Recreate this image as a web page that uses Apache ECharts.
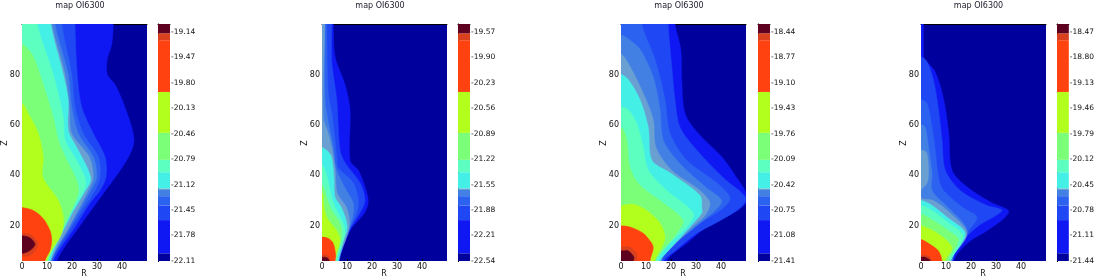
<!DOCTYPE html>
<html><head><meta charset="utf-8">
<style>html,body{margin:0;padding:0;background:#fff}#c{width:1097px;height:278px}</style>
<script src="https://cdn.jsdelivr.net/npm/echarts@6/dist/echarts.min.js"></script></head>
<body><div id="c"></div>
<script>
const title = 'map OI6300';
const rTicks = [0,10,20,30,40];
const zTicks = [20,40,60,80];
const navy = '#00009c';
const bandColors = ['#0f18f2','#1f48f4','#2c62f0','#4280e4','#6a9fd2','#44f0e6','#5cffc0','#7cff78','#b2ff1e','#ff4210','#d8401e','#5e0020'];
const barEdges = [0,0.10,0.53,0.72,0.84,0.92,0.94,1.15,1.31,1.66,2.19,2.86,2.95,3.07];

const ticks1 = [-19.14,-19.47,-19.80,-20.13,-20.46,-20.79,-21.12,-21.45,-21.78,-22.11];
const ticks2 = [-19.57,-19.90,-20.23,-20.56,-20.89,-21.22,-21.55,-21.88,-22.21,-22.54];
const ticks3 = [-18.44,-18.77,-19.10,-19.43,-19.76,-20.09,-20.42,-20.75,-21.08,-21.41];
const ticks4 = [-18.47,-18.80,-19.13,-19.46,-19.79,-20.12,-20.45,-20.78,-21.11,-21.44];

// Contours: each is the outer edge [R,Z] of one colour level, closed along R=0.
const p1c1 = [[36.5,100],[35.9,92],[34.1,86],[34.1,80],[37.2,76],[41.2,67],[44.8,54],[41.9,46],[31.2,31],[23.2,20],[13.9,6]];
const p1c2 = [[21.2,100],[22.1,80],[23.9,67],[28.5,56.6],[33.2,47.3],[33.6,39.3],[31.2,34],[27.2,29],[21.2,19.5],[12.5,6]];
const p1c3 = [[15.9,100],[19.9,80],[21.2,67],[24.5,56.6],[30.5,47.3],[31.2,39.3],[29.2,34],[19.9,19.5],[12,6]];
const p1c4 = [[13.2,100],[18.5,80],[19.9,67],[22.5,56.6],[28.5,47.3],[29.9,39.3],[27.5,34],[19.2,19.5],[11.7,6]];
const p1c5 = [[11.9,100],[17.2,80],[18.9,67],[19.9,56.6],[26.9,47.3],[28.5,39.3],[26.5,34],[18.7,19.5],[11.5,6]];
const p1c6 = [[11.5,100],[16.5,80],[18.5,70],[18.5,58],[21.9,51],[26.1,43],[27.5,38],[24.5,32.5],[19.2,23.4],[11.2,6]];
const p1c7 = [[6.1,100],[12.5,80],[16.5,63],[17.2,54],[21.2,47],[25.2,39],[25.2,35],[18.5,23.4],[10.5,6]];
const p1c8 = [[0,92],[4,88],[7.2,80],[12.5,63],[14.5,54],[17.9,46],[21.9,38],[22.5,33],[17.9,22],[10.2,6]];
const p1c9 = [[0,68.5],[2.5,64.5],[6.5,56.6],[8.5,47.3],[8.3,39.3],[14.5,30],[16.5,23.4],[15.9,17],[9.8,6]];
const p1c10 = [[0,27.2],[4.5,26],[8.5,22.8],[11.2,18.1],[11.9,14.2],[11.2,10.2],[9.2,6]];
const p1c11 = [[0,17],[3.9,16.2],[6.3,12.6],[3.9,8.6],[0,7.8]];
const p1c12 = [[0,16],[3.2,15.2],[5.2,12.6],[3.2,10.2],[0,9]];

const p2c1 = [[4.5,100],[5.2,87],[9.2,76],[11.2,66],[11.2,46],[14.5,42],[17.2,35.4],[18.5,29.4],[16.8,24.8],[11.2,18],[6.9,6]];
const p2c2 = [[3.9,100],[3.9,85],[5.9,70],[7.2,50],[9.2,45],[15.2,37],[17.2,30],[15.2,25],[10.9,18],[6.8,6]];
const p2c3 = [[1.9,100],[2.5,72.5],[3.9,64.5],[5.2,54],[5.9,47],[6.5,43],[12.5,37],[14.5,30],[13.9,25],[10.7,18],[6.7,6]];
const p2c4 = [[1.2,100],[1.2,70],[2.9,59],[4.5,51],[5.5,43],[9.2,35],[12.5,29],[12.3,23.4],[10.5,18],[6.6,6]];
const p2c5 = [[1.1,100],[0.5,63],[2.5,56.6],[3.9,51],[5.2,43],[6.1,33],[9.9,27],[10.9,19.5],[6.5,6]];
const p2c6 = [[0,51],[2.5,49.3],[3.9,47],[4.8,39],[5.2,31.4],[7.9,27],[10.1,19.5],[8.5,14],[6.6,6]];
const p2c7 = [[0,44],[2.1,39],[3.9,31],[5.9,26],[8.5,21],[9.2,17],[5.9,6]];
const p2c8 = [[0,36],[1.9,31],[3.9,26],[7.2,21],[7.9,15.5],[5.6,6]];
const p2c9 = [[0,33],[0.5,29],[1.9,23.4],[5.9,18],[7.2,14],[4.9,6]];
const p2c10 = [[0,15.5],[2.5,15],[4.5,13],[5.5,8],[5.2,6]];
const p2c11 = [[0,8.5],[2.5,8],[3.2,6]];
const p2c12 = [[0,7.5],[2,7.3],[2.9,6]];

const p3c1 = [[21.6,100],[23.9,90],[24.3,78],[25.6,64.5],[30.9,56.6],[40.3,47.3],[46.3,39],[50,33],[50,29],[44.9,25],[34.3,19.5],[26.3,13],[18.3,6]];
const p3c2 = [[18.9,100],[20.3,83],[21.6,70],[23.6,59],[30.3,50],[40.9,39],[50,31],[47.6,27],[39.6,22],[30.3,17],[21.6,10],[17.2,6]];
const p3c3 = [[8.3,100],[13.6,86],[17.6,70],[19.6,56.6],[26.3,46],[38.3,37],[43.6,31],[40.9,27],[31.6,21],[17.6,10],[16.7,6]];
const p3c4 = [[0,95.6],[3.6,93.6],[7.6,90],[12.9,79],[15.6,66],[16.9,54],[23.6,44.6],[34.3,35],[40.3,30],[37.6,26],[30.3,20],[17.2,9],[16.3,6]];
const p3c5 = [[0,88],[3.3,83.7],[8.9,72.5],[12.9,62],[14,51],[20.3,42],[31.6,34],[35.6,29],[33.6,24],[28,19],[16.5,7.5],[16,6]];
const p3c6 = [[0,80],[2.9,78],[7.6,70],[10.9,59],[12.3,46],[19.6,41],[31.6,32],[32.3,27],[32.3,25],[27.6,19.5],[16.5,7.5],[15.6,6]];
const p3c7 = [[0,67],[2.9,66],[6.3,60.5],[8.9,51],[10.9,42],[18.3,34],[28.9,25],[26.3,19.5],[17.6,11],[14.9,6]];
const p3c8 = [[0,59],[2.3,54],[3.6,43],[7.6,36],[16.9,29],[24.9,22],[22.3,17],[14.3,7.5],[13.6,6]];
const p3c9 = [[0,28],[4.9,28.5],[10.3,26],[15.6,21],[17.6,15.5],[16.3,11.5],[13.6,6]];
const p3c10 = [[0,20],[3.6,19.5],[8.9,17],[12.3,13],[12.9,11],[11.6,6]];
const p3c11 = [[0,11.5],[3.6,11.5],[6.3,9],[6.3,6]];
const p3c12 = [[0,10],[2.9,10],[5.2,7.5],[4.9,6]];

const p4c1 = [[1,100],[1,87],[1.7,85.7],[5.7,81],[9.1,70],[11.1,56.6],[12.4,42],[18.4,35.4],[27.7,29.4],[35,26],[33.7,23.4],[26.4,18],[18.4,13],[13,6]];
const p4c2 = [[0,87],[2.4,85],[5,77.7],[7,66],[8.4,54],[9.7,42],[15.7,34],[26.4,28],[32.4,26],[22.4,19.5],[14.4,11.5],[12.8,6]];
const p4c3 = [[0,70],[2.4,68.5],[4.4,59],[5.7,50],[7,39],[9,34],[17,27],[22.4,23.4],[19,18],[13.7,10],[12.5,6]];
const p4c4 = [[0,60],[1.7,59],[3,51],[4.4,40.7],[4.4,34],[9,29],[17,21],[18.4,17],[13,9],[12.3,6]];
const p4c5 = [[0,50],[2.2,49],[3,42],[2.5,37],[0,34],[0,31],[5,30],[11.7,25],[18.4,17],[12.8,8],[12.3,6]];
const p4c6 = [[0,30],[3.7,28.5],[10.4,23.4],[17.7,17],[12.5,7.5],[11.7,6]];
const p4c7 = [[0,28],[4.4,26],[10.4,21.5],[16.8,16],[12,7],[11.5,6]];
const p4c8 = [[0,24.5],[5,22],[11,18],[15,14.5],[11,6]];
const p4c9 = [[0,20],[5.7,17.5],[10.4,14],[12.4,11],[9.7,6]];
const p4c10 = [[0,14.5],[3,13],[7,10],[8.4,6]];
const p4c11 = [[0,8.3],[3,8],[4.4,6]];
const p4c12 = [[0,7.5],[1.7,7.5],[3.7,6]];

const panels = [
 {plotX:22, barX:158, titleX:75, rX:84, zX:5, ticks:ticks1, c:[p1c1,p1c2,p1c3,p1c4,p1c5,p1c6,p1c7,p1c8,p1c9,p1c10,p1c11,p1c12]},
 {plotX:322, barX:458, titleX:375, rX:384, zX:305, ticks:ticks2, c:[p2c1,p2c2,p2c3,p2c4,p2c5,p2c6,p2c7,p2c8,p2c9,p2c10,p2c11,p2c12]},
 {plotX:621, barX:758, titleX:674, rX:683, zX:604, ticks:ticks3, c:[p3c1,p3c2,p3c3,p3c4,p3c5,p3c6,p3c7,p3c8,p3c9,p3c10,p3c11,p3c12]},
 {plotX:921, barX:1057, titleX:973.5, rX:983, zX:904, ticks:ticks4, c:[p4c1,p4c2,p4c3,p4c4,p4c5,p4c6,p4c7,p4c8,p4c9,p4c10,p4c11,p4c12]}
];

const font = 'DejaVu Sans';
const txt = '#111';
const grids=[], xAxes=[], yAxes=[], series=[], titles=[], graphics=[];

function contourSeries(points, color, xi, yi){
  const first=points[0], last=points[points.length-1];
  // carry the outline past the plot edges so that the curve's rounding is clipped away
  const head = first[0]===0 ? [[-6,first[1]]] : [[-6,112],[first[0],112]];
  const tail = last[0]===0 ? [[-6,last[1]]] : [[last[0],-4],[-6,-4]];
  const closed = [...head, ...points, ...tail];
  return {type:'custom', coordinateSystem:'cartesian2d', xAxisIndex:xi, yAxisIndex:yi, clip:true, silent:true,
    data:closed, encode:{x:0,y:1},
    renderItem:(params,api)=>{
      if(params.dataIndex!==0) return null;
      return {type:'polygon', shape:{points:closed.map(p=>api.coord(p)), smooth:0.3}, style:{fill:color, stroke:color, lineWidth:0.5}};
    }};
}

panels.forEach(p=>{
  const g=grids.length;
  grids.push({left:p.plotX, top:24, width:125, height:237, show:true, backgroundColor:navy, borderWidth:0});
  const xi=xAxes.length, yi=yAxes.length;
  xAxes.push({type:'value', gridIndex:g, min:0, max:50, position:'bottom', splitLine:{show:false},
    axisLine:{show:false}, axisTick:{show:true, inside:true, length:2, lineStyle:{color:'#000',width:1}, customValues:rTicks},
    axisLabel:{fontFamily:font, fontSize:8, color:txt, margin:2, customValues:rTicks, formatter:v=>String(v)}});
  xAxes.push({type:'value', gridIndex:g, min:0, max:50, position:'top', splitLine:{show:false},
    axisLine:{show:true, onZero:false, lineStyle:{color:'#000',width:1}}, axisTick:{show:false}, axisLabel:{show:false}});
  yAxes.push({type:'value', gridIndex:g, min:6, max:100, position:'left', splitLine:{show:false},
    axisLine:{show:false}, axisTick:{show:true, inside:true, length:2, lineStyle:{color:'#000',width:1}, customValues:zTicks},
    axisLabel:{fontFamily:font, fontSize:8, color:txt, margin:2, customValues:zTicks, formatter:v=>String(v)}});
  p.c.forEach((pts,i)=>series.push(contourSeries(pts,bandColors[i],xi,yi)));

  // colour bar
  const g2=grids.length;
  const vmin=p.ticks[p.ticks.length-1];
  grids.push({left:p.barX, top:24, width:12, height:237, show:false});
  const xi2=xAxes.length, yi2=yAxes.length;
  xAxes.push({type:'value', gridIndex:g2, min:0, max:1, position:'top', splitLine:{show:false},
    axisLine:{show:true, onZero:false, lineStyle:{color:'#000',width:1}}, axisTick:{show:false}, axisLabel:{show:false}});
  yAxes.push({type:'value', gridIndex:g2, min:vmin, max:vmin+3.07, position:'right', splitLine:{show:false},
    axisLine:{show:false}, axisTick:{show:true, length:1, lineStyle:{color:'#000'}, customValues:p.ticks},
    axisLabel:{fontFamily:font, fontSize:7.5, color:txt, margin:1, customValues:p.ticks, formatter:v=>v.toFixed(2)}});
  yAxes.push({type:'value', gridIndex:g2, min:vmin, max:vmin+3.07, position:'left', splitLine:{show:false},
    axisLine:{show:true, onZero:false, lineStyle:{color:'#000',width:1}}, axisTick:{show:false}, axisLabel:{show:false}});
  const cols=[navy,...bandColors];
  const barData=cols.map((c,i)=>[vmin+barEdges[i], vmin+barEdges[i+1], i]);
  series.push({type:'custom', coordinateSystem:'cartesian2d', xAxisIndex:xi2, yAxisIndex:yi2, clip:true, silent:true,
    data:barData, encode:{y:[0,1]},
    renderItem:(params,api)=>{
      const a=api.coord([0,api.value(0)]), b=api.coord([1,api.value(1)]);
      return {type:'rect', shape:{x:a[0],y:b[1],width:b[0]-a[0],height:a[1]-b[1]}, style:{fill:cols[api.value(2)]}};
    }});

  titles.push({text:title, left:p.titleX, top:-3, textAlign:'center',
    textStyle:{fontFamily:font, fontSize:8, fontWeight:'normal', color:'#1a1a2a'}});
  graphics.push({type:'text', x:p.rX, y:274, style:{text:'R', font:'8px "DejaVu Sans"', fill:txt, textAlign:'center', textVerticalAlign:'middle'}});
  graphics.push({type:'text', x:p.zX, y:143, rotation:Math.PI/2, style:{text:'Z', font:'8px "DejaVu Sans"', fill:txt, textAlign:'center', textVerticalAlign:'middle'}});
});

const chart=echarts.init(document.getElementById('c'),null,{renderer:'canvas'});
chart.setOption({animation:false, title:titles, grid:grids, xAxis:xAxes, yAxis:yAxes, series, graphic:graphics});
</script></body></html>
